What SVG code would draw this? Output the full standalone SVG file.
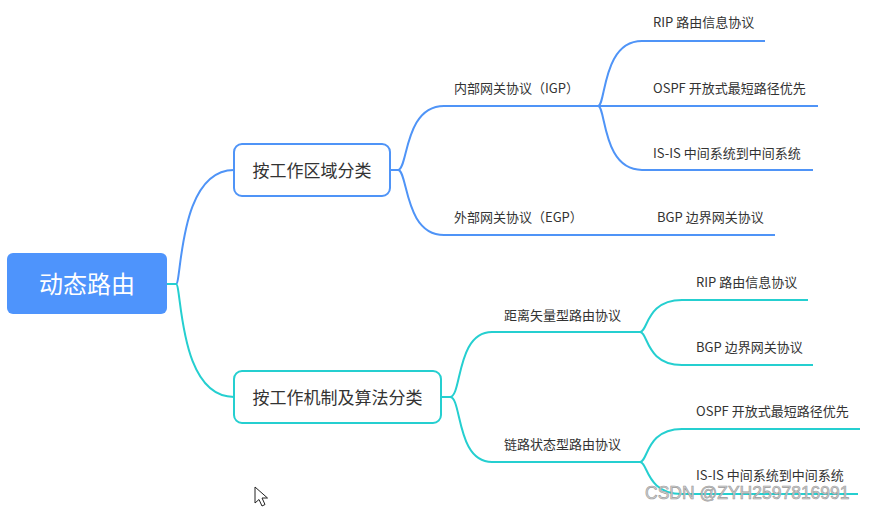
<svg xmlns="http://www.w3.org/2000/svg" width="874" height="509" viewBox="0 0 874 509">
<style>
.t{font-family:"Noto Sans CJK SC","Microsoft YaHei",sans-serif;fill:#333}
.s{font-size:13px}
.b{fill:none;stroke:#4f94f7;stroke-width:2}
.c{fill:none;stroke:#25cfd0;stroke-width:2}
</style>
<rect width="874" height="509" fill="#fff"/>
<g id="connectors">
<path class="b" d="M167,284 H176 C182,284 178,170 234,170"/>
<path class="c" d="M167,284 H176 C182,284 178,397 234,397"/>
<path class="b" d="M390,170 H398 C408,170 404,106 444,106 H598"/>
<path class="b" d="M398,170 C408,170 404,235 444,235 H775"/>
<path class="b" d="M598,106 C606,106 602,41 642,41 H765"/>
<path class="b" d="M598,106 H818"/>
<path class="b" d="M598,106 C606,106 602,170 642,170 H813"/>
<path class="c" d="M441,397 H450 C462,397 456,332 492,332 H640"/>
<path class="c" d="M450,397 C462,397 456,462 492,462 H640"/>
<path class="c" d="M640,332 C648,332 646,300 682,300 H808"/>
<path class="c" d="M640,332 C648,332 646,365 682,365 H813"/>
<path class="c" d="M640,462 C648,462 646,429 682,429 H860"/>
<path class="c" d="M640,462 C648,462 646,494 682,494 H858"/>
</g>
<g id="root">
<rect x="7" y="253" width="160" height="61" rx="6" fill="#4e94fc"/>
<text class="t" x="87" y="293" font-size="24" text-anchor="middle" style="fill:#fff">动态路由</text>
</g>
<g id="area">
<rect x="234" y="144" width="156" height="52" rx="8" fill="#fff" stroke="#4f94f7" stroke-width="2"/>
<text class="t" x="312" y="177" font-size="17" text-anchor="middle">按工作区域分类</text>
</g>
<g id="mech">
<rect x="234" y="371" width="207" height="52" rx="8" fill="#fff" stroke="#25cfd0" stroke-width="2"/>
<text class="t" x="337.5" y="404" font-size="17" text-anchor="middle">按工作机制及算法分类</text>
</g>
<g id="igp"><text class="t s" x="454" y="93">内部网关协议（IGP）</text></g>
<g id="egp"><text class="t s" x="454" y="222">外部网关协议（EGP）</text></g>
<g id="rip1"><text class="t s" x="653" y="27">RIP 路由信息协议</text></g>
<g id="ospf1"><text class="t s" x="653" y="93">OSPF 开放式最短路径优先</text></g>
<g id="isis1"><text class="t s" x="653" y="158">IS-IS 中间系统到中间系统</text></g>
<g id="bgp1"><text class="t s" x="657" y="222">BGP 边界网关协议</text></g>
<g id="dv"><text class="t s" x="504" y="320">距离矢量型路由协议</text></g>
<g id="ls"><text class="t s" x="504" y="449">链路状态型路由协议</text></g>
<g id="rip2"><text class="t s" x="696" y="287">RIP 路由信息协议</text></g>
<g id="bgp2"><text class="t s" x="696" y="352">BGP 边界网关协议</text></g>
<g id="ospf2"><text class="t s" x="696" y="416">OSPF 开放式最短路径优先</text></g>
<g id="isis2"><text class="t s" x="696" y="480">IS-IS 中间系统到中间系统</text></g>
<text x="645" y="499" font-family="Liberation Sans, Arial, sans-serif" font-size="17.5" fill="#d0d0d0" stroke="#9a9a9a" stroke-width="0.6">CSDN @ZYH2597816991</text>
<path d="M255,487 L255,503 L259,499.5 L262,506 L265,504.5 L262,498 L267.5,498 Z" fill="#fff" stroke="#222" stroke-width="1"/>
</svg>
